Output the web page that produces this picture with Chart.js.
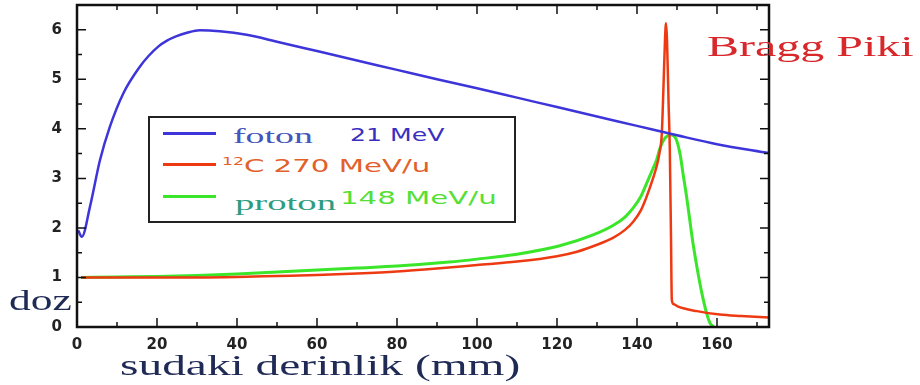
<!DOCTYPE html>
<html lang="tr">
<head>
<meta charset="UTF-8">
<title>Bragg Piki</title>
<script src="https://cdn.jsdelivr.net/npm/chart.js"></script>
<style>
  body { margin: 0; background: #fff; }
  #wrap { position: relative; width: 920px; height: 385px; overflow: hidden; }
  #wrap canvas { position: absolute; left: 0; top: 0; }
  .lbl { position: absolute; white-space: nowrap; transform-origin: 0 0; line-height: 1; }
  .serif { font-family: 'Liberation Serif', serif; }
  .sans { font-family: 'DejaVu Sans', sans-serif; }
  #legend { position: absolute; left: 148px; top: 116px; width: 364px; height: 103px; border: 2px solid #222; background: #fff; }
  .sample { position: absolute; left: 13px; width: 53px; height: 3px; }
</style>
</head>
<body>
<div id="wrap">
  <canvas id="chart" width="920" height="385"></canvas>

  <div id="legend">
    <div class="sample" id="s0" style="top:14px"></div>
    <div class="sample" id="s1" style="top:45px"></div>
    <div class="sample" id="s2" style="top:77px"></div>
    <span class="lbl serif" id="n0" style="left:83px; top:7px; font-size:22px; color:#4455bb; transform:scaleX(1.72)"></span>
    <span class="lbl sans" id="e0" style="left:200px; top:9px; font-size:17px; color:#3a2fc0; transform:scaleX(1.48)"></span>
    <span class="lbl sans" id="e1" style="left:72px; top:39px; font-size:17px; color:#e2602a; transform:scaleX(1.72)"></span>
    <span class="lbl serif" id="n2" style="left:85px; top:74px; font-size:22px; color:#2e9c80; transform:scaleX(1.76)"></span>
    <span class="lbl sans" id="e2" style="left:190px; top:72px; font-size:17px; color:#55e035; transform:scaleX(1.72)"></span>
  </div>

  <span class="lbl serif" style="left:707px; top:31px; font-size:30px; color:#d8282c; transform:scaleX(1.6)">Bragg Piki</span>
  <span class="lbl serif" style="left:9px; top:285px; font-size:30px; color:#1f2a55; transform:scaleX(1.45)">doz</span>
  <span class="lbl serif" style="left:120px; top:350px; font-size:30px; color:#1f2a55; transform:scaleX(1.58)">sudaki derinlik (mm)</span>
</div>

<script>
  // eksen işaretleri
  const xTicks = [0, 20, 40, 60, 80, 100, 120, 140, 160];
  const xMinor = [10, 30, 50, 70, 90, 110, 130, 150, 170];
  const yTicks = [0, 1, 2, 3, 4, 5, 6];
  const yMinor = [0.5, 1.5, 2.5, 3.5, 4.5, 5.5];

  // foton 21 MeV
  const fotonX = [0.3, 1.2, 3.25, 5.75, 8.25, 11.6, 15.75, 18, 20.3, 22.5, 24.9, 27.5, 30.7, 35.7, 42.4, 50, 60, 70, 80, 90, 100, 110, 120, 130, 140, 150, 160, 173];
  const fotonY = [1.95, 1.82, 2.43, 3.37, 4.05, 4.72, 5.26, 5.48, 5.66, 5.78, 5.87, 5.94, 5.99, 5.97, 5.9, 5.76, 5.57, 5.38, 5.19, 5.0, 4.82, 4.63, 4.44, 4.25, 4.06, 3.87, 3.69, 3.51];

  // 12C 270 MeV/u
  const carbonX = [1, 10, 20, 30, 40, 50, 60, 70, 80, 90, 100, 110, 120, 125, 130, 134, 137, 139, 141, 142.4, 144, 144.9, 145.6, 146.2, 146.6, 147.0, 147.25, 147.5, 147.9, 148.2, 148.5, 148.7, 149.2, 150.3, 155, 160.7, 166, 173];
  const carbonY = [1.0, 1.0, 1.0, 1.0, 1.01, 1.03, 1.05, 1.08, 1.12, 1.18, 1.25, 1.32, 1.43, 1.52, 1.66, 1.8, 1.96, 2.12, 2.36, 2.63, 3.0, 3.24, 3.5, 3.9, 4.8, 5.8, 6.13, 5.8, 4.5, 3.6, 1.8, 0.55, 0.46, 0.41, 0.32, 0.25, 0.22, 0.19];

  // proton 148 MeV/u
  const protonX = [1, 10, 20, 30, 40, 55, 70, 80, 93, 100, 110, 120.7, 129, 134, 137, 139, 141, 142.4, 144, 144.9, 145.7, 146.7, 147.5, 148.3, 149.6, 150.75, 151.5, 152.4, 154, 155, 156.2, 157.5, 158.25, 159.2];
  const protonY = [1.0, 1.01, 1.02, 1.04, 1.07, 1.13, 1.19, 1.23, 1.31, 1.37, 1.47, 1.64, 1.86, 2.05, 2.22, 2.4, 2.64, 2.9, 3.2, 3.37, 3.6, 3.78, 3.85, 3.88, 3.82, 3.5, 3.1, 2.63, 1.69, 1.2, 0.69, 0.25, 0.08, 0];

  const names = ['foton', '\u00B9\u00B2C', 'proton'];
  const energies = ['21 MeV', '270 MeV/u', '148 MeV/u'];
  const colors = ['#3d35d9', '#ee3a12', '#3be52a'];

  const pts = (xs, ys) => xs.map((x, i) => ({ x: x, y: ys[i] }));

  // lejant
  colors.forEach((c, i) => { document.getElementById('s' + i).style.background = c; });
  document.getElementById('n0').textContent = names[0];
  document.getElementById('e0').textContent = energies[0];
  document.getElementById('e1').innerHTML = '<sup style="font-size:10px">12</sup>C ' + energies[1];
  document.getElementById('n2').textContent = names[2];
  document.getElementById('e2').textContent = energies[2];

  // çerçeve ve içe dönük çentikler
  const frameTicks = {
    id: 'frameTicks',
    afterDraw(chart) {
      const { ctx, chartArea: a, scales: { x, y } } = chart;
      ctx.save();
      ctx.strokeStyle = '#111';
      ctx.lineWidth = 1.5;
      ctx.beginPath();
      const vx = (vals, len) => vals.forEach(v => {
        const px = x.getPixelForValue(v);
        ctx.moveTo(px, a.bottom); ctx.lineTo(px, a.bottom - len);
        ctx.moveTo(px, a.top); ctx.lineTo(px, a.top + len);
      });
      const vy = (vals, len) => vals.forEach(v => {
        const py = y.getPixelForValue(v);
        ctx.moveTo(a.left, py); ctx.lineTo(a.left + len, py);
        ctx.moveTo(a.right, py); ctx.lineTo(a.right - len, py);
      });
      vx(xTicks, 9); vx(xMinor, 5);
      vy(yTicks, 9); vy(yMinor, 5);
      ctx.stroke();
      ctx.lineWidth = 2.5;
      ctx.strokeRect(a.left, a.top, a.right - a.left, a.bottom - a.top);
      ctx.restore();
    }
  };

  const tickFont = { family: 'DejaVu Sans', size: 15, weight: 'bold' };

  new Chart(document.getElementById('chart'), {
    type: 'line',
    data: {
      datasets: [
        { label: names[0], data: pts(fotonX, fotonY), borderColor: colors[0], borderWidth: 2.5 },
        { label: names[1], data: pts(carbonX, carbonY), borderColor: colors[1], borderWidth: 2.5 },
        { label: names[2], data: pts(protonX, protonY), borderColor: colors[2], borderWidth: 3 }
      ]
    },
    options: {
      responsive: false,
      animation: false,
      elements: { point: { radius: 0 }, line: { cubicInterpolationMode: 'monotone', fill: false } },
      layout: { autoPadding: false, padding: { top: 5, right: 151, left: 0, bottom: 0 } },
      plugins: { legend: { display: false }, tooltip: { enabled: false } },
      scales: {
        x: {
          type: 'linear', min: 0, max: 173,
          grid: { display: false, drawTicks: false },
          border: { display: false },
          afterBuildTicks: s => { s.ticks = xTicks.map(v => ({ value: v })); },
          afterFit: s => { s.height = 58; s.paddingLeft = 0; s.paddingRight = 0; },
          ticks: { font: tickFont, color: '#222', padding: 9, maxRotation: 0, autoSkip: false }
        },
        y: {
          type: 'linear', min: 0, max: 6.5,
          grid: { display: false, drawTicks: false },
          border: { display: false },
          afterBuildTicks: s => { s.ticks = yTicks.map(v => ({ value: v })); },
          afterFit: s => { s.width = 77; s.paddingTop = 0; s.paddingBottom = 0; },
          ticks: { font: tickFont, color: '#222', padding: 15 }
        }
      }
    },
    plugins: [frameTicks]
  });
</script>
</body>
</html>
